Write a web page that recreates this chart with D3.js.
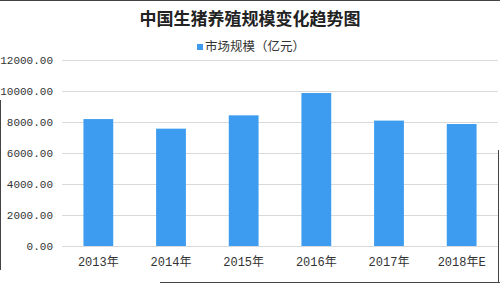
<!DOCTYPE html>
<html>
<head>
<meta charset="utf-8">
<script src="https://cdn.jsdelivr.net/npm/d3@7"></script>
<style>
  html, body { margin: 0; padding: 0; background: #fff; }
  svg { display: block; }
</style>
</head>
<body>
<div id="chart"></div>
<script>
// data
var years = ["2013年", "2014年", "2015年", "2016年", "2017年", "2018年E"];
var marketSize = [8190, 7570, 8430, 9870, 8090, 7870];
var yTicks = [0, 2000, 4000, 6000, 8000, 10000, 12000];

var width = 500, height = 283;
var margin = { top: 60, right: 2, bottom: 37, left: 62 };

var svg = d3.select("#chart").append("svg")
  .attr("width", width)
  .attr("height", height);

var x = d3.scaleBand()
  .domain(years)
  .range([margin.left, width - margin.right])
  .paddingInner(0.59)
  .paddingOuter(0.295);

var y = d3.scaleLinear()
  .domain([0, 12000])
  .range([height - margin.bottom, margin.top]);

// gridlines
svg.append("g")
  .selectAll("line")
  .data(yTicks)
  .enter()
  .append("line")
  .attr("x1", margin.left)
  .attr("x2", width - margin.right)
  .attr("y1", function (d) { return Math.round(y(d)) + 0.5; })
  .attr("y2", function (d) { return Math.round(y(d)) + 0.5; })
  .style("stroke", "#d9d9d9")
  .style("stroke-width", 1);

// y labels
svg.append("g")
  .selectAll("text")
  .data(yTicks)
  .enter()
  .append("text")
  .attr("x", 53)
  .attr("y", function (d) { return y(d); })
  .attr("dy", "0.35em")
  .style("text-anchor", "end")
  .style("font-family", "'Liberation Mono', 'DejaVu Sans Mono', monospace")
  .style("font-size", "11px")
  .style("fill", "#333")
  .text(function (d) { return d3.format(".2f")(d); });

// bars
svg.append("g")
  .selectAll("rect")
  .data(marketSize)
  .enter()
  .append("rect")
  .attr("x", function (d, i) { return x(years[i]); })
  .attr("width", x.bandwidth())
  .attr("y", function (d) { return y(d); })
  .attr("height", function (d) { return y(0) - y(d); })
  .style("fill", "#3d9cf0");

// x labels
svg.append("g")
  .selectAll("text")
  .data(years)
  .enter()
  .append("text")
  .attr("x", function (d) { return x(d) + x.bandwidth() / 2; })
  .attr("y", 262)
  .attr("dy", "0.35em")
  .style("text-anchor", "middle")
  .style("font-family", "'Liberation Mono', 'Noto Sans CJK SC', monospace")
  .style("font-size", "12px")
  .style("fill", "#333")
  .text(function (d) { return d; });

// title
svg.append("text")
  .attr("x", 250)
  .attr("y", 19)
  .attr("dy", "0.35em")
  .style("text-anchor", "middle")
  .style("font-family", "'Noto Sans CJK SC', sans-serif")
  .style("font-weight", "bold")
  .style("font-size", "17px")
  .style("fill", "#222")
  .text("中国生猪养殖规模变化趋势图");

// legend
svg.append("rect")
  .attr("x", 197)
  .attr("y", 44)
  .attr("width", 6)
  .attr("height", 6)
  .style("fill", "#3d9cf0");

svg.append("text")
  .attr("x", 205)
  .attr("y", 47)
  .attr("dy", "0.35em")
  .style("font-family", "'Noto Sans CJK SC', sans-serif")
  .style("font-size", "12.5px")
  .style("fill", "#333")
  .text("市场规模（亿元）");

// dark frame edges seen in the picture
var edges = [
  [0, 0.5, 500, 0.5],
  [498.5, 150, 498.5, 283],
  [0.5, 100, 0.5, 270],
  [160, 282.5, 500, 282.5]
];
svg.append("g")
  .selectAll("line")
  .data(edges)
  .enter()
  .append("line")
  .attr("x1", function (d) { return d[0]; })
  .attr("y1", function (d) { return d[1]; })
  .attr("x2", function (d) { return d[2]; })
  .attr("y2", function (d) { return d[3]; })
  .style("stroke", "#444")
  .style("stroke-width", 1);
</script>
</body>
</html>
